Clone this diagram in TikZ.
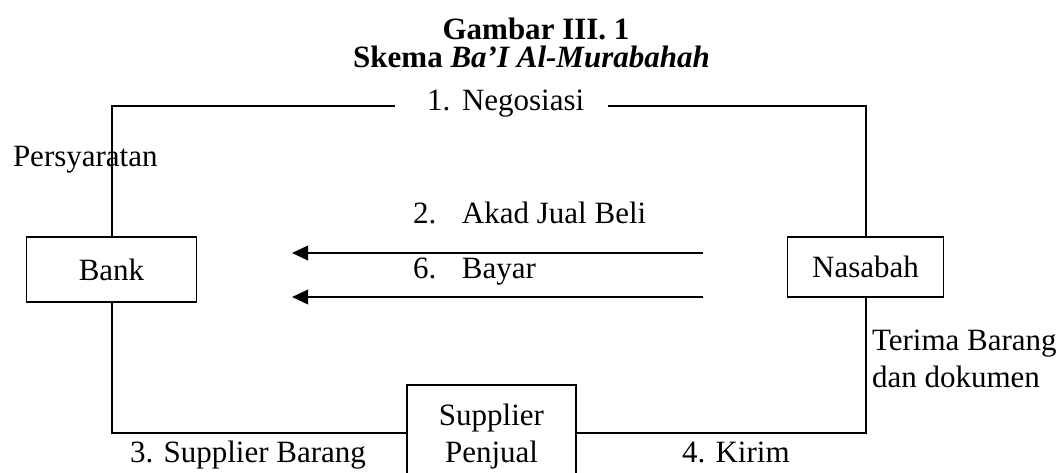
\documentclass[tikz,border=0pt]{standalone}
\usepackage{fontspec}
\setmainfont{Liberation Serif}
\usetikzlibrary{arrows.meta}
\begin{document}
\begin{tikzpicture}[x=0.4pt,y=-0.4pt,
  every node/.style={font=\fontsize{12.4pt}{14.8pt}\selectfont, inner sep=0pt, outer sep=0pt},
  box/.style={draw, line width=0.7pt, align=center},
  lbl/.style={anchor=base west},
  ttl/.style={anchor=base, font=\fontsize{12.4pt}{14.8pt}\selectfont\bfseries},
  conn/.style={line width=0.8pt},
  arr/.style={conn, -{Triangle[length=6.4pt,width=5.8pt]}}]
\useasboundingbox (0,0) rectangle (1063,472);
\clip (0,0) rectangle (1063,472);

% title
\node[ttl] (t1) at (536,40) {Gambar III. 1};
\node[ttl] (t2) at (531.5,68) {Skema \textit{Ba’I Al-Murabahah}};

% boxes
\node[box, minimum width=68pt, minimum height=26pt] (bank) at (111.5,269.5) {Bank};
\node[box, minimum width=62.4pt, minimum height=24pt] (nas) at (865.5,267) {Nasabah};
\node[box, anchor=north, minimum width=67.6pt, minimum height=41pt] (supp) at (491.5,385) {Supplier\\Penjual};

% labels
\node[lbl] (pers) at (13,167) {Persyaratan};
\node[lbl] (neg) at (427,111) {\makebox[14pt][l]{1.}Negosiasi};
\node[lbl] (akad) at (413,223) {\makebox[19.6pt][l]{2.}Akad Jual Beli};
\node[lbl] (bayar) at (413,278) {\makebox[19.6pt][l]{6.}Bayar};
\node[lbl] (sb) at (130,462) {3. Supplier Barang};
\node[lbl] (kirim) at (682,462) {4. Kirim};
\node[lbl] (terima) at (872,350) {Terima Barang};
\node[lbl] (dok) at (872,387) {dan dokumen};

% connectors
\coordinate (tl) at (395,106);
\coordinate (tr) at (608,106);
\draw[conn] (bank.north) |- (tl);
\draw[conn] (tr) -| (nas.north);

\coordinate (a1s) at (703,253);
\coordinate (a1e) at (292,253);
\coordinate (a2s) at (703,297);
\coordinate (a2e) at (292,297);
\draw[arr] (a1s) -- (a1e);
\draw[arr] (a2s) -- (a2e);

\coordinate (lowy) at (0,433);
\draw[conn] (bank.south) |- (supp.west |- lowy);
\draw[conn] (nas.south) |- (supp.east |- lowy);
\end{tikzpicture}
\end{document}
